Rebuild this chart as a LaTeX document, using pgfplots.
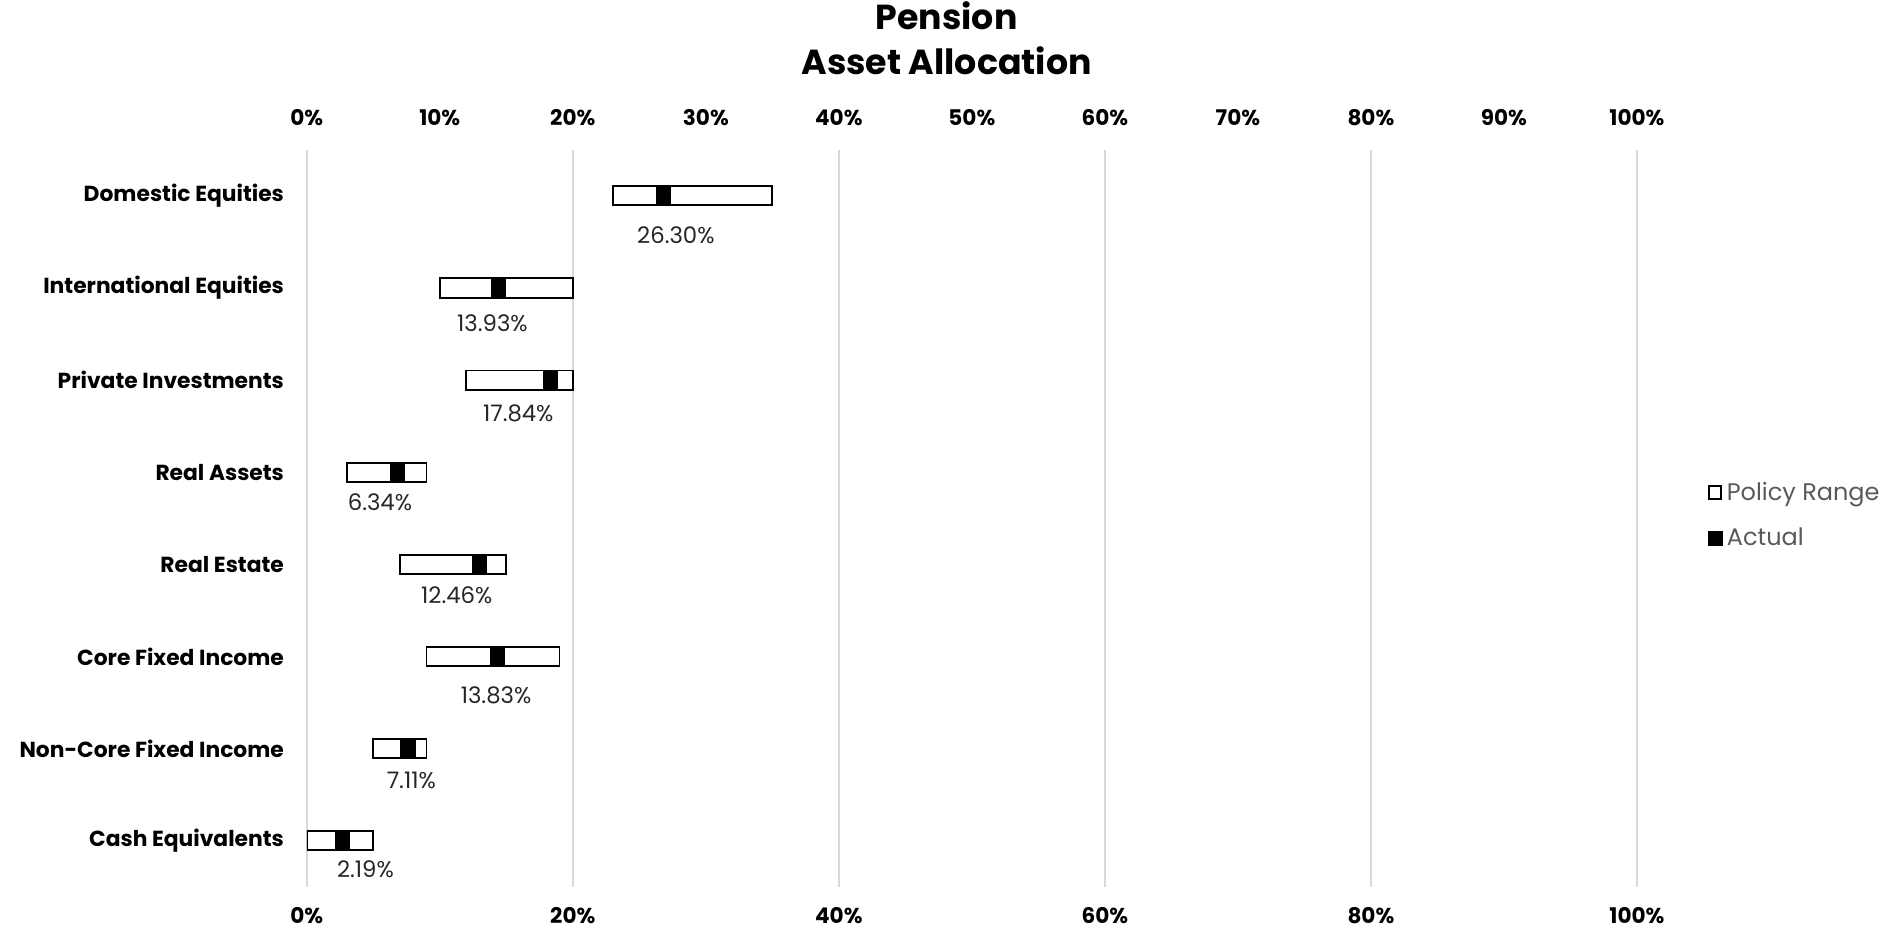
\documentclass[border=0pt]{standalone}
\usepackage{fontspec}
\setmainfont{Poppins}
\usepackage{pgfplots}
\usepackage{pgfplotstable}
\pgfplotsset{compat=1.18}
\definecolor{gridgray}{HTML}{D9D9D9}
\definecolor{legtext}{HTML}{595959}

% idx: row from top, low/high: policy range, actual, lx/dy: label position
\pgfplotstableread{
idx low high actual lx dy
0 23 35 26.30 27.75 0.43
1 10 20 13.93 13.96 0.38
2 12 20 17.84 15.90 0.36
3 3 9 6.34 5.50 0.33
4 7 15 12.46 11.28 0.33
5 9 19 13.83 14.23 0.42
6 5 9 7.11 7.86 0.34
7 0 5 2.19 4.41 0.31
}\alloc

\begin{document}
\begin{tikzpicture}
\pgfplotsset{
  base/.style={
    at={(0,0)}, anchor=south west,
    scale only axis, width=555pt, height=307.5pt,
    xmin=0, xmax=100, ymin=-0.5, ymax=7.5, y dir=reverse,
    axis line style={draw=none}, tick style={draw=none},
    /pgf/number format/assume math mode=true,
  }
}
% main axis: grid, bottom ticks, categories, bars
\begin{axis}[base,
  xbar stacked, bar width=8pt,
  xtick={0,20,...,100},
  xticklabel={\pgfmathprintnumber{\tick}\%},
  xticklabel style={font=\bfseries\fontsize{9}{10}\selectfont, yshift=-5pt},
  xmajorgrids, grid style={gridgray, line width=0.8pt},
  ytick={0,...,7},
  yticklabels={Domestic Equities, International Equities, Private Investments,
    Real Assets, Real Estate, Core Fixed Income, Non-Core Fixed Income, Cash Equivalents},
  yticklabel style={font=\bfseries\fontsize{9.1}{10}\selectfont, xshift=-6pt},
  legend style={at={(1.053,0.504)}, anchor=west, draw=none, fill=none,
    font=\fontsize{10}{11}\selectfont, text=legtext, row sep=7pt,
    inner sep=0pt, nodes={inner sep=1.5pt}},
  legend cell align=left,
]
\addplot[draw=none, fill=none, forget plot] table[x=low, y=idx] {\alloc};
\addplot[fill=white, draw=black, line width=0.8pt,
  legend image code/.code={\draw[fill=white, draw=black, line width=0.8pt] (0pt,-2.6pt) rectangle (5.2pt,2.6pt);}]
  table[x expr=\thisrow{actual}-\thisrow{low}, y=idx] {\alloc};
\addlegendentry{Policy Range}
\addplot[fill=black, draw=black, line width=0.8pt,
  legend image code/.code={\fill[black] (0pt,-2.8pt) rectangle (5.6pt,2.8pt);}]
  table[x expr=1, y=idx] {\alloc};
\addlegendentry{Actual}
\addplot[fill=white, draw=black, line width=0.8pt, forget plot]
  table[x expr=\thisrow{high}-\thisrow{actual}-1, y=idx] {\alloc};
\end{axis}
% overlay axis: top ticks, title, value labels
\begin{axis}[base,
  xtick={0,10,...,100},
  xticklabel pos=top,
  xticklabel={\pgfmathprintnumber{\tick}\%},
  xticklabel style={font=\bfseries\fontsize{9}{10}\selectfont, yshift=6.5pt},
  ytick=\empty,
  title={Pension\\Asset Allocation},
  title style={at={(0.481,1)}, anchor=center, yshift=40.5pt, align=center,
    font=\bfseries\fontsize{14.5}{18.5}\selectfont},
]
\addplot[draw=none, mark=none, nodes near coords={\pgfmathprintnumber[fixed, fixed zerofill, precision=2]{\pgfplotspointmeta}\%},
  point meta=explicit,
  nodes near coords style={anchor=center, font=\fontsize{9.5}{11}\selectfont, text=black!85}]
  table[x=lx, y expr=\thisrow{idx}+\thisrow{dy}, meta=actual] {\alloc};
\end{axis}
\pgfresetboundingbox
\useasboundingbox (-128pt,-17pt) rectangle (656pt,370pt);
\end{tikzpicture}
\end{document}
